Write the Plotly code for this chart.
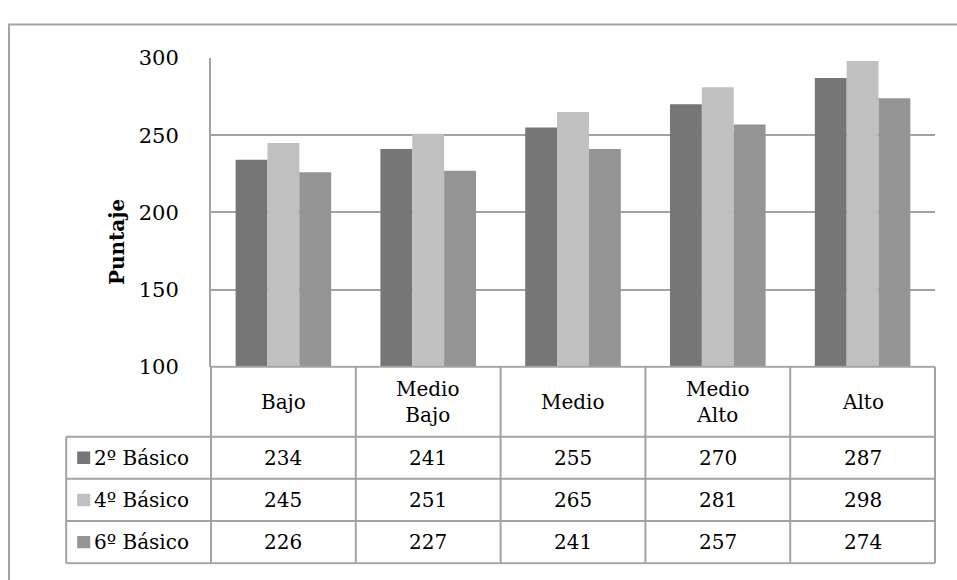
import plotly.graph_objects as go

# ---- data ----
categories = ["Bajo", "Medio Bajo", "Medio", "Medio Alto", "Alto"]
header_labels = ["Bajo", "Medio<br>Bajo", "Medio", "Medio<br>Alto", "Alto"]
series_names = ["2º Básico", "4º Básico", "6º Básico"]
basico_2 = [234, 241, 255, 270, 287]
basico_4 = [245, 251, 265, 281, 298]
basico_6 = [226, 227, 241, 257, 274]
y_ticks = [100, 150, 200, 250, 300]
y_title = "Puntaje"

series_values = [basico_2, basico_4, basico_6]
colors = ["#767676", "#c0c0c0", "#949494"]

# ---- layout geometry (pixels) ----
W, H = 957, 580
PL, PR, PT, PB = 211, 935, 48, 370      # plot area
ROW_H = 44
HDR_BOT = 443                           # bottom of header row
n_cat = len(categories)
ux = (PR - PL) / n_cat                  # px per category
hh = (HDR_BOT - PB) / ROW_H             # header height in row units
pad = 0.03
FONT = "DejaVu Serif"
FS = 20
LINE_C = "#a3a3a3"


def fx(p):
    return p / W


def fy(p):
    return 1 - p / H


fig = go.Figure()
for name, vals, col in zip(series_names, series_values, colors):
    fig.add_trace(go.Bar(x=categories, y=vals, name=name, marker_color=col,
                         marker_line_width=0, showlegend=False))

# invisible helper trace for table axes
fig.add_trace(go.Scatter(x=[0], y=[0], xaxis="x2", yaxis="y2", mode="markers",
                         marker_opacity=0, showlegend=False, hoverinfo="skip"))

n_rows = len(series_names)
x2_left = PL - (1 + pad) * ux
x2_right = PR + pad * ux
y2_top = HDR_BOT - ROW_H * (hh + pad)
y2_bot = HDR_BOT + ROW_H * (n_rows + pad)

fig.update_layout(
    width=W, height=H,
    margin=dict(l=0, r=0, t=0, b=0),
    paper_bgcolor="white", plot_bgcolor="rgba(0,0,0,0)",
    barmode="group", bargap=0.34, bargroupgap=0,
    font=dict(family=FONT, color="black", size=FS),
    xaxis=dict(domain=[fx(PL), fx(PR)], type="category",
               categoryorder="array", categoryarray=categories,
               range=[-0.5, n_cat - 0.5], showticklabels=False,
               showgrid=False, zeroline=False, showline=False, ticks=""),
    yaxis=dict(domain=[fy(PB), fy(PT)], range=[y_ticks[0], y_ticks[-1]],
               tickvals=y_ticks, showgrid=True, gridcolor=LINE_C, gridwidth=2,
               showline=True, linecolor=LINE_C, linewidth=2, zeroline=False,
               ticks="", ticklabelstandoff=26,
               tickfont=dict(family=FONT, size=21, color="black")),
    xaxis2=dict(domain=[fx(x2_left), fx(x2_right)], anchor="y2",
                range=[-1.5 - pad, n_cat - 0.5 + pad], visible=False),
    yaxis2=dict(domain=[fy(y2_bot), fy(y2_top)], anchor="x2",
                range=[-n_rows - pad, hh + pad], visible=False),
)

shapes = []
line = dict(color=LINE_C, width=2)
# horizontal table lines
shapes.append(dict(type="line", xref="x2", yref="y2", x0=-0.5, x1=n_cat - 0.5,
                   y0=hh, y1=hh, line=line))
for k in range(n_rows + 1):
    shapes.append(dict(type="line", xref="x2", yref="y2", x0=-1.5, x1=n_cat - 0.5,
                       y0=-k, y1=-k, line=line))
# vertical table lines
shapes.append(dict(type="line", xref="x2", yref="y2", x0=-1.5, x1=-1.5,
                   y0=-n_rows, y1=0, line=line))
for i in range(n_cat + 1):
    shapes.append(dict(type="line", xref="x2", yref="y2", x0=i - 0.5, x1=i - 0.5,
                       y0=-n_rows, y1=hh, line=line))
# legend keys
key_px = 13
for k, col in enumerate(colors):
    yc = -k - 0.5
    shapes.append(dict(type="rect", xref="x2", yref="y2",
                       x0=-1.5 + 11 / ux, x1=-1.5 + (11 + key_px) / ux,
                       y0=yc - key_px / 2 / ROW_H, y1=yc + key_px / 2 / ROW_H,
                       fillcolor=col, line=dict(width=0)))
# outer frame
shapes.append(dict(type="rect", xref="paper", yref="paper",
                   x0=fx(9), x1=1.05, y0=-0.05, y1=fy(13),
                   line=dict(color=LINE_C, width=2)))

annotations = []
for i, lab in enumerate(header_labels):
    annotations.append(dict(xref="x2", yref="y2", x=i, y=hh / 2, text=lab,
                            showarrow=False, xanchor="center", yanchor="middle",
                            font=dict(family=FONT, size=FS)))
for k, (name, vals) in enumerate(zip(series_names, series_values)):
    annotations.append(dict(xref="x2", yref="y2", x=-1.5 + 26 / ux, y=-k - 0.5,
                            text=name, showarrow=False, xanchor="left",
                            yanchor="middle", font=dict(family=FONT, size=FS)))
    for i, v in enumerate(vals):
        annotations.append(dict(xref="x2", yref="y2", x=i, y=-k - 0.5,
                                text=str(v), showarrow=False, xanchor="center",
                                yanchor="middle", font=dict(family=FONT, size=FS)))
annotations.append(dict(xref="paper", yref="paper", x=fx(117), y=fy(240),
                        text="<b>" + y_title + "</b>", textangle=-90,
                        showarrow=False, xanchor="center", yanchor="middle",
                        font=dict(family=FONT, size=20)))

fig.update_layout(shapes=shapes, annotations=annotations)
fig.write_html("out.html")
